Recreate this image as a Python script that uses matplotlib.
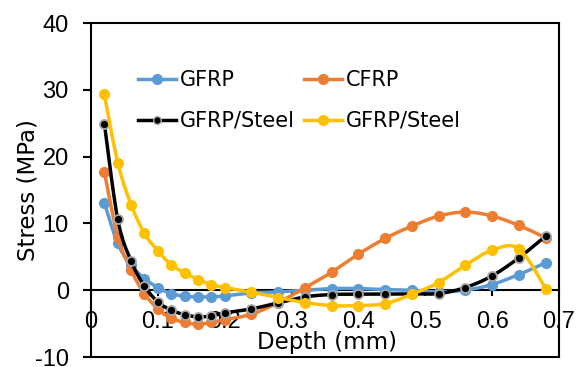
import matplotlib
matplotlib.use("Agg")
import matplotlib.pyplot as plt
import numpy as np

plt.rcParams["axes.unicode_minus"] = False

# ---------------- DATA ---------------- #
depth = [0.02, 0.04, 0.06, 0.08, 0.10, 0.12, 0.14, 0.16, 0.18, 0.20, 0.24,
         0.28, 0.32, 0.36, 0.40, 0.44, 0.48, 0.52, 0.56, 0.60, 0.64, 0.68]
gfrp = [13.1, 7.0, 3.75, 1.75, 0.4, -0.5, -0.9, -1.0, -1.0, -0.85, -0.4,
        -0.25, 0.0, 0.25, 0.25, 0.1, 0.0, -0.25, 0.0, 0.85, 2.35, 4.1]
cfrp = [17.7, 8.0, 3.0, -0.55, -2.75, -4.2, -4.8, -5.1, -4.8, -4.4, -3.6,
        -1.85, 0.35, 2.7, 5.4, 7.75, 9.6, 11.1, 11.7, 11.1, 9.7, 7.85]
gfrp_steel_1 = [24.95, 10.6, 4.35, 0.6, -1.75, -3.0, -3.65, -4.0, -3.85, -3.4, -2.8,
                -1.9, -1.0, -0.65, -0.6, -0.6, -0.55, -0.5, 0.4, 2.15, 4.85, 8.1]
gfrp_steel_2 = [29.3, 19.1, 12.8, 8.5, 5.9, 3.8, 2.6, 1.6, 0.85, 0.4, -0.3,
                -1.1, -1.85, -2.3, -2.3, -2.0, -0.6, 1.15, 3.75, 6.0, 6.2, 0.25]

series_labels = ["GFRP", "CFRP", "GFRP/Steel", "GFRP/Steel"]
x_ticks = [0, 0.1, 0.2, 0.3, 0.4, 0.5, 0.6, 0.7]
x_tick_labels = ["0", "0.1", "0.2", "0.3", "0.4", "0.5", "0.6", "0.7"]
y_ticks = [-10, 0, 10, 20, 30, 40]


# smoothed line like Excel (bezier through the points)
def smooth(xs, ys, n=20):
    p = np.column_stack([xs, ys])
    p = np.vstack([p[0], p, p[-1]])
    out = []
    for i in range(1, len(p) - 2):
        p0, p3 = p[i], p[i + 1]
        c1 = p0 + (p[i + 1] - p[i - 1]) / 6
        c2 = p3 - (p[i + 2] - p[i]) / 6
        t = np.linspace(0, 1, n)[:, None]
        seg = ((1 - t) ** 3) * p0 + 3 * ((1 - t) ** 2) * t * c1 + 3 * (1 - t) * t ** 2 * c2 + t ** 3 * p3
        out.append(seg)
    s = np.vstack(out)
    return s[:, 0], s[:, 1]


fig = plt.figure(figsize=(5.76, 3.67), dpi=100)
ax = fig.add_axes([91 / 576, 1 - 357 / 367, (559 - 91) / 576, (357 - 23) / 367])

colors = ["#5B9BD5", "#ED7D31", "#000000", "#FFC000"]
all_series = [gfrp, cfrp, gfrp_steel_1, gfrp_steel_2]
handles = []
for vals, col, lab in zip(all_series, colors, series_labels):
    sx, sy = smooth(depth, vals)
    ax.plot(sx, sy, color=col, lw=2.5, zorder=3, solid_capstyle="round")
    if col == "#000000":
        ax.plot(depth, vals, "o", color=col, ms=6.5, mec="#A6A6A6", mew=1.3, zorder=3)
        h, = ax.plot([], [], "-o", color=col, lw=2.5, ms=5.5, mec="#A6A6A6", mew=1.0, label=lab)
    else:
        ax.plot(depth, vals, "o", color=col, ms=7, zorder=3)
        h, = ax.plot([], [], "-o", color=col, lw=2.5, ms=7, label=lab)
    handles.append(h)

ax.set_xlim(0, 0.7)
ax.set_ylim(-10, 40)
ax.set_xticks(x_ticks)
ax.set_xticklabels(x_tick_labels)
ax.set_yticks(y_ticks)

for s in ax.spines.values():
    s.set_linewidth(1.5)
ax.spines["bottom"].set_position(("data", 0))
ax.plot([0, 1], [0, 0], transform=ax.transAxes, color="k", lw=1.5, clip_on=False, zorder=2.5)

ax.tick_params(axis="y", direction="out", length=6, width=1.5, pad=10,
               labelsize=17, labelfontfamily="Liberation Sans")
ax.tick_params(axis="x", direction="out", length=4, width=1.5, pad=11,
               labelsize=17, labelfontfamily="Liberation Sans")

fig.text(28 / 576, 1 - 190 / 367, "Stress (MPa)", rotation=90, ha="center", va="center",
         fontsize=16.5, family="DejaVu Sans")
fig.text(327 / 576, 1 - 343 / 367, "Depth (mm)", ha="center", va="center",
         fontsize=16.5, family="DejaVu Sans")

# column-wise fill: GFRP / GFRP-Steel in col 1, CFRP / GFRP-Steel in col 2
ax.legend(handles=[handles[0], handles[2], handles[1], handles[3]], ncol=2,
          frameon=False, prop={"family": "DejaVu Sans", "size": 15},
          loc="upper left", bbox_to_anchor=(138 / 576, 1 - 70 / 367),
          bbox_transform=fig.transFigure, handlelength=1.8, handletextpad=0.2,
          columnspacing=0.45, labelspacing=1.0, borderaxespad=0, borderpad=0)

plt.savefig("out.png", dpi=100)
